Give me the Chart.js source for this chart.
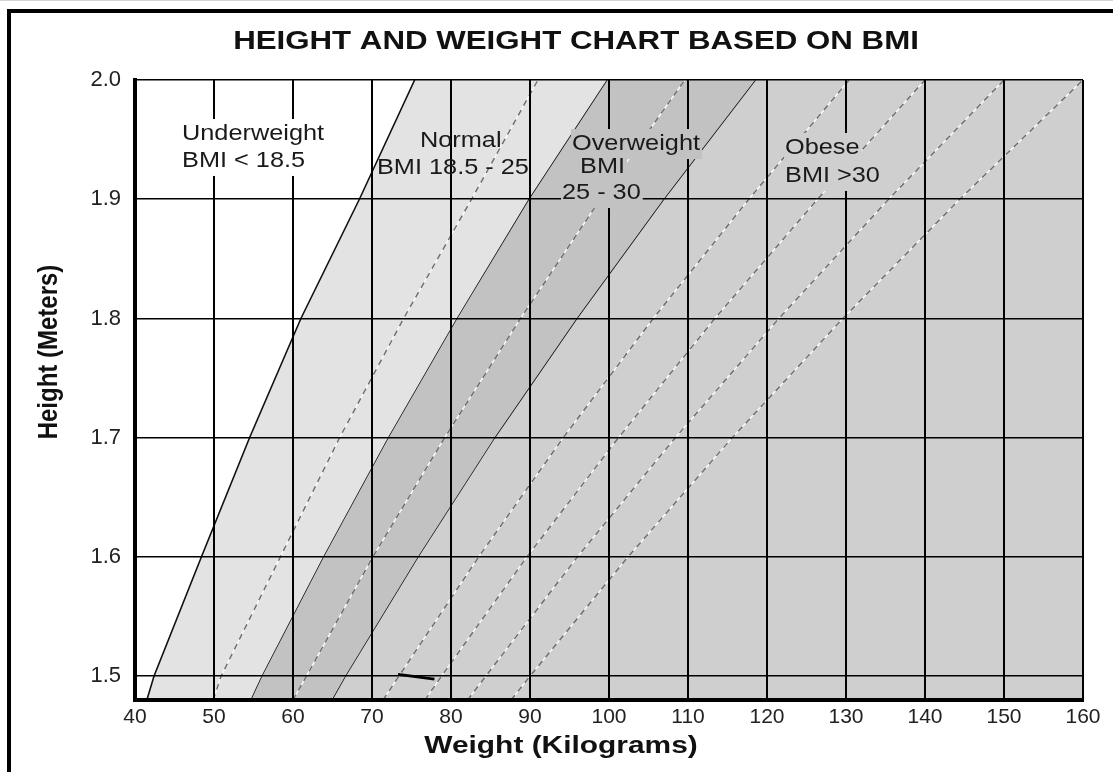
<!DOCTYPE html>
<html>
<head>
<meta charset="utf-8">
<script src="https://cdn.jsdelivr.net/npm/chart.js@4.4.0/dist/chart.umd.min.js"></script>
<style>
  html, body { margin: 0; padding: 0; background: #fff; }
  body { width: 1113px; height: 772px; position: relative; overflow: hidden; }
  .topline { position: absolute; left: 0; right: 0; top: 0; height: 1px; background: #d4d4d4; }
  .frame { position: absolute; left: 7px; top: 9px; right: 0; bottom: 0; border-left: 4px solid #000; border-top: 4px solid #000; }
  .wrap { position: absolute; left: 0; top: 0; width: 1113px; height: 772px; }
</style>
</head>
<body>
<div class="topline"></div>
<div class="frame"></div>
<div class="wrap"><canvas id="bmiChart"></canvas></div>
<script>
const heights = [1.48, 1.5, 1.6, 1.7, 1.8, 1.9, 2.0];

// weights (kg) of the solid region boundaries at those heights
const underLimit = [41.5, 42.4, 48.4, 54.5, 61.0, 68.4, 75.4];
const normalLimit = [54.6, 56.0, 63.8, 72.0, 80.7, 89.8, 99.7];
const overLimit = [64.9, 66.6, 75.8, 85.5, 95.9, 106.9, 118.5];

// dashed guide lines
const guide1 = [49.9, 50.9, 58.4, 65.9, 74.0, 82.6, 91.0];
const guide2 = [60.0, 61.7, 70.1, 79.2, 88.8, 98.9, 109.6];
const guide3 = [71.4, 73.4, 83.5, 94.2, 105.6, 117.7, 130.4];
const guide4 = [76.7, 78.8, 89.6, 101.2, 113.4, 126.4, 140.0];
const guide5 = [82.1, 84.4, 96.0, 108.4, 121.5, 135.4, 150.0];
const guide6 = [87.6, 90.0, 102.4, 115.6, 129.6, 144.4, 160.0];

// short black stroke near 1.5 m
const strokeW = [73.3, 77.9];
const strokeH = [1.5015, 1.4975];

// region captions, one entry per text line
const captionText = ['Underweight', 'BMI < 18.5', 'Normal', 'BMI 18.5 - 25', 'Overweight', 'BMI', '25 - 30', 'Obese', 'BMI >30'];
const captionW = [45.95, 45.95, 76.08, 70.63, 95.32, 96.33, 94.05, 122.28, 122.28];
const captionH = [1.9547, 1.9321, 1.9488, 1.9262, 1.9463, 1.9270, 1.9052, 1.9430, 1.9195];

const FONT = "'Liberation Sans', Arial, sans-serif";
const NORMAL_BG = '#e3e3e3';
const OVER_BG = '#c2c2c2';
const OBESE_BG = '#cfcfcf';
const captionBg = ['#ffffff', '#ffffff', null, null, OVER_BG, OVER_BG, OVER_BG, OBESE_BG, OBESE_BG];

const toPoints = (ws, hs) => ws.map((w, i) => ({ x: w, y: hs[i] }));

// region boundaries get a higher order so they are painted first
const datasets = [
  { data: toPoints(underLimit, heights), order: 2, borderColor: '#111', borderWidth: 1.6, fill: '+1', backgroundColor: NORMAL_BG },
  { data: toPoints(normalLimit, heights), order: 2, borderColor: '#111', borderWidth: 1.6, fill: '+1', backgroundColor: OVER_BG },
  { data: toPoints(overLimit, heights), order: 2, borderColor: '#111', borderWidth: 1.6, fill: { value: 160 }, backgroundColor: OBESE_BG }
];

[guide1, guide2, guide3, guide4, guide5, guide6].forEach(g => {
  datasets.push({ data: toPoints(g, heights), order: 1, borderColor: '#fafafa', borderWidth: 1.4, fill: false });
  datasets.push({ data: toPoints(g, heights), order: 0, borderColor: '#6a6a6a', borderWidth: 1.4, borderDash: [6, 5], fill: false });
});

datasets.push({ data: toPoints(strokeW, strokeH), order: 0, borderColor: '#000', borderWidth: 3, fill: false });

// draw text stretched horizontally like the original bitmap
function wideText(ctx, text, x, y, font, sx, align) {
  ctx.save();
  ctx.font = font;
  const w = ctx.measureText(text).width * sx;
  const left = align === 'center' ? x - w / 2 : x;
  ctx.translate(left, y);
  ctx.scale(sx, 1);
  ctx.textAlign = 'left';
  ctx.textBaseline = 'middle';
  ctx.fillText(text, 0, 0);
  ctx.restore();
  return w;
}

const textLayer = {
  id: 'textLayer',
  afterDraw(chart) {
    const { ctx } = chart;
    const xs = chart.scales.x;
    const ys = chart.scales.y;

    ctx.fillStyle = '#111';
    wideText(ctx, 'HEIGHT AND WEIGHT CHART BASED ON BMI', 576, 42, 'bold 25px ' + FONT, 1.25, 'center');
    wideText(ctx, 'Weight (Kilograms)', 561, 747, 'bold 23px ' + FONT, 1.3, 'center');

    ctx.save();
    ctx.translate(49, 352);
    ctx.rotate(-Math.PI / 2);
    ctx.scale(1, 1.15);
    ctx.font = 'bold 24px ' + FONT;
    ctx.textAlign = 'center';
    ctx.textBaseline = 'middle';
    ctx.fillStyle = '#111';
    ctx.fillText('Height (Meters)', 0, 0);
    ctx.restore();

    const capFont = '22px ' + FONT;
    captionText.forEach((t, i) => {
      const px = xs.getPixelForValue(captionW[i]);
      const py = ys.getPixelForValue(captionH[i]);
      ctx.font = capFont;
      const w = ctx.measureText(t).width * 1.15;
      if (captionBg[i]) {
        ctx.fillStyle = captionBg[i];
        ctx.fillRect(px - 1, py - 15, w + 3, 30);
      }
      ctx.fillStyle = '#1a1a1a';
      wideText(ctx, t, px, py, capFont, 1.15, 'left');
    });
  }
};

new Chart(document.getElementById('bmiChart'), {
  type: 'line',
  data: { datasets },
  options: {
    indexAxis: 'y',
    responsive: true,
    maintainAspectRatio: false,
    animation: false,
    layout: { padding: { top: 80, right: 30, left: 0, bottom: 0 } },
    elements: { point: { radius: 0 }, line: { tension: 0 } },
    plugins: {
      legend: { display: false },
      tooltip: { enabled: false },
      title: { display: false }
    },
    scales: {
      x: {
        type: 'linear',
        position: 'bottom',
        min: 40,
        max: 160,
        ticks: { stepSize: 10, padding: 5, color: '#222', font: { family: FONT, size: 21 } },
        grid: { color: '#000', lineWidth: 2, drawTicks: false, z: 1 },
        border: { color: '#000', width: 4, z: 2 },
        afterFit(scale) { scale.height = 72; }
      },
      y: {
        type: 'linear',
        position: 'left',
        min: 1.48,
        max: 2.0,
        ticks: {
          stepSize: 0.1,
          includeBounds: false,
          padding: 14,
          color: '#222',
          font: { family: FONT, size: 22 },
          callback: v => v.toFixed(1)
        },
        grid: { color: '#000', lineWidth: 1.5, drawTicks: false, z: 1 },
        border: { color: '#000', width: 4, z: 2 },
        afterFit(scale) { scale.width = 135; }
      }
    }
  },
  plugins: [textLayer]
});
</script>
</body>
</html>
